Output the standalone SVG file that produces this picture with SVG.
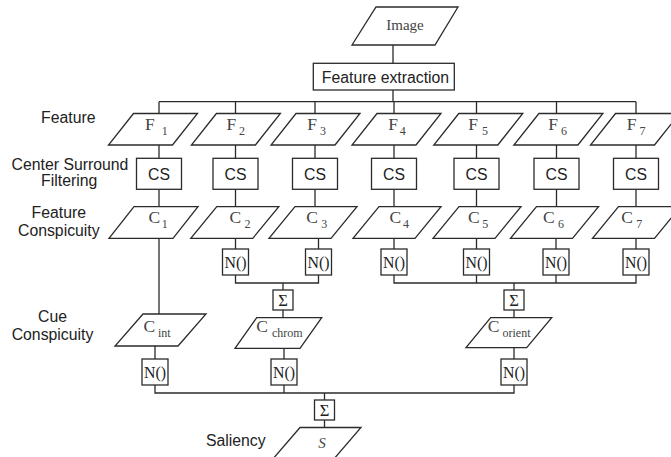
<svg xmlns="http://www.w3.org/2000/svg" width="671" height="457" viewBox="0 0 671 457">
<style>
.sh{fill:#fff;stroke:#2b2b2b;stroke-width:1.3}
.cn{fill:none;stroke:#2b2b2b;stroke-width:1.3}
.sans{font-family:"Liberation Sans",Arial,sans-serif;font-size:15.8px;fill:#222}
.lbl{text-anchor:middle}
.sr{font-family:"Liberation Serif","Times New Roman",serif;fill:#444}
.big{font-size:17.5px}
.sub{font-size:12px}
.nf{font-family:"Liberation Serif","Times New Roman",serif;font-size:16.5px;fill:#222;text-anchor:middle}
</style>
<rect width="671" height="457" fill="#fff"/>

<g id="connectors">
<path class="cn" d="M393 45V63.3M393 90V101.7M159 101.7H636"/>
<path class="cn" d="M159 101.7V113.5M235.5 101.7V113.5M315 101.7V113.5M394 101.7V113.5M476.5 101.7V113.5M556.5 101.7V113.5M636 101.7V113.5"/>
<path class="cn" d="M159 145V158.3M235.5 145V158.3M315 145V158.3M394 145V158.3M476.5 145V158.3M556.5 145V158.3M636 145V158.3"/>
<path class="cn" d="M159 189.3V206.7M235.5 189.3V206.7M315 189.3V206.7M394 189.3V206.7M476.5 189.3V206.7M556.5 189.3V206.7M636 189.3V206.7"/>
<path class="cn" d="M159 238.3V314M235.5 238.3V249M318.5 238.3V249M394 238.3V249M476.5 238.3V249M556 238.3V249M636 238.3V249"/>
<path class="cn" d="M235.5 275V283H318.5V275M283 283V290M283 310V317.7"/>
<path class="cn" d="M394 275V283H636V275M476.5 275V283M556 275V283M514 283V290M514 310V317.7"/>
<path class="cn" d="M155 346V359M284 348.3V359M514 347.7V359"/>
<path class="cn" d="M155 385V393H514V385M284 385V393M324.5 393V400M324.5 420V427.5"/>
</g>

<g id="image"><polygon class="sh" points="376,7 458,7 435,45 352,45"/><text class="sr" x="405" y="30" font-size="15" text-anchor="middle">Image</text></g>
<g id="feature-extraction"><rect class="sh" x="313.3" y="63.3" width="141" height="26.7"/><text class="sans lbl" x="385.5" y="82.7">Feature extraction</text></g>

<g id="label-feature"><text class="sans lbl" x="68.3" y="123.3">Feature</text></g>
<g id="label-cs"><text class="sans lbl" x="70" y="169.8">Center Surround</text><text class="sans lbl" x="69.2" y="186.3">Filtering</text></g>
<g id="label-fc"><text class="sans lbl" x="58.8" y="218.3">Feature</text><text class="sans lbl" x="58.8" y="235.5">Conspicuity</text></g>
<g id="label-cue"><text class="sans lbl" x="52.5" y="322.3">Cue</text><text class="sans lbl" x="52.5" y="340.3">Conspicuity</text></g>
<g id="label-saliency"><text class="sans lbl" x="235.8" y="446">Saliency</text></g>

<g id="F1"><polygon class="sh" points="133.5,113.5 197.5,113.5 172.5,145 108.5,145"/><text class="sr"><tspan class="big" x="145" y="130">F</tspan><tspan class="sub" x="161.7" y="134.5">1</tspan></text></g>
<g id="F2"><polygon class="sh" points="216.4,113.5 280.4,113.5 255.4,145 191.4,145"/><text class="sr"><tspan class="big" x="226.5" y="130">F</tspan><tspan class="sub" x="239" y="134.5">2</tspan></text></g>
<g id="F3"><polygon class="sh" points="296,113.5 360,113.5 335,145 271,145"/><text class="sr"><tspan class="big" x="307.3" y="130">F</tspan><tspan class="sub" x="320" y="134.5">3</tspan></text></g>
<g id="F4"><polygon class="sh" points="377,113.5 441,113.5 416,145 352,145"/><text class="sr"><tspan class="big" x="388.3" y="130">F</tspan><tspan class="sub" x="399.8" y="134.5">4</tspan></text></g>
<g id="F5"><polygon class="sh" points="458.8,113.5 522.8,113.5 497.8,145 433.8,145"/><text class="sr"><tspan class="big" x="468.3" y="130">F</tspan><tspan class="sub" x="482" y="134.5">5</tspan></text></g>
<g id="F6"><polygon class="sh" points="538.9,113.5 602.9,113.5 577.9,145 513.9,145"/><text class="sr"><tspan class="big" x="548.3" y="130">F</tspan><tspan class="sub" x="561" y="134.5">6</tspan></text></g>
<g id="F7"><polygon class="sh" points="615.5,113.5 679.5,113.5 654.5,145 590.5,145"/><text class="sr"><tspan class="big" x="626.7" y="130">F</tspan><tspan class="sub" x="639.5" y="134.5">7</tspan></text></g>

<g id="CS1"><rect class="sh" x="136.5" y="158.3" width="45" height="31"/><text class="sans lbl" x="159" y="179.5" font-size="16">CS</text></g>
<g id="CS2"><rect class="sh" x="213" y="158.3" width="45" height="31"/><text class="sans lbl" x="235.5" y="179.5" font-size="16">CS</text></g>
<g id="CS3"><rect class="sh" x="292.5" y="158.3" width="45" height="31"/><text class="sans lbl" x="315" y="179.5" font-size="16">CS</text></g>
<g id="CS4"><rect class="sh" x="371.5" y="158.3" width="45" height="31"/><text class="sans lbl" x="394" y="179.5" font-size="16">CS</text></g>
<g id="CS5"><rect class="sh" x="454" y="158.3" width="45" height="31"/><text class="sans lbl" x="476.5" y="179.5" font-size="16">CS</text></g>
<g id="CS6"><rect class="sh" x="534" y="158.3" width="45" height="31"/><text class="sans lbl" x="556.5" y="179.5" font-size="16">CS</text></g>
<g id="CS7"><rect class="sh" x="613.5" y="158.3" width="45" height="31"/><text class="sans lbl" x="636" y="179.5" font-size="16">CS</text></g>

<g id="C1"><polygon class="sh" points="134,206.7 198,206.7 173,238.3 109,238.3"/><text class="sr"><tspan class="big" x="148.5" y="223">C</tspan><tspan class="sub" x="161.7" y="227.5">1</tspan></text></g>
<g id="C2"><polygon class="sh" points="216.8,206.7 278.8,206.7 252.8,238.3 190.8,238.3"/><text class="sr"><tspan class="big" x="229.5" y="223">C</tspan><tspan class="sub" x="244.5" y="227.5">2</tspan></text></g>
<g id="C3"><polygon class="sh" points="295,206.7 357,206.7 331,238.3 269,238.3"/><text class="sr"><tspan class="big" x="306.2" y="223">C</tspan><tspan class="sub" x="321.2" y="227.5">3</tspan></text></g>
<g id="C4"><polygon class="sh" points="379,206.7 441,206.7 415,238.3 353,238.3"/><text class="sr"><tspan class="big" x="389.5" y="223">C</tspan><tspan class="sub" x="403" y="227.5">4</tspan></text></g>
<g id="C5"><polygon class="sh" points="459,206.7 521,206.7 495,238.3 433,238.3"/><text class="sr"><tspan class="big" x="468" y="223">C</tspan><tspan class="sub" x="482.2" y="227.5">5</tspan></text></g>
<g id="C6"><polygon class="sh" points="536.5,206.7 598.5,206.7 572.5,238.3 510.5,238.3"/><text class="sr"><tspan class="big" x="543" y="223">C</tspan><tspan class="sub" x="558" y="227.5">6</tspan></text></g>
<g id="C7"><polygon class="sh" points="618.5,206.7 680.5,206.7 654.5,238.3 592.5,238.3"/><text class="sr"><tspan class="big" x="621.2" y="223">C</tspan><tspan class="sub" x="636.3" y="227.5">7</tspan></text></g>

<g id="N2"><rect class="sh" x="222.5" y="249" width="26" height="26"/><text class="nf" x="235.5" y="267.8" textLength="22" lengthAdjust="spacingAndGlyphs">N()</text></g>
<g id="N3"><rect class="sh" x="305.5" y="249" width="26" height="26"/><text class="nf" x="318.5" y="267.8" textLength="22" lengthAdjust="spacingAndGlyphs">N()</text></g>
<g id="N4"><rect class="sh" x="381" y="249" width="26" height="26"/><text class="nf" x="394" y="267.8" textLength="22" lengthAdjust="spacingAndGlyphs">N()</text></g>
<g id="N5"><rect class="sh" x="463.5" y="249" width="26" height="26"/><text class="nf" x="476.5" y="267.8" textLength="22" lengthAdjust="spacingAndGlyphs">N()</text></g>
<g id="N6"><rect class="sh" x="543" y="249" width="26" height="26"/><text class="nf" x="556" y="267.8" textLength="22" lengthAdjust="spacingAndGlyphs">N()</text></g>
<g id="N7"><rect class="sh" x="623" y="249" width="26" height="26"/><text class="nf" x="636" y="267.8" textLength="22" lengthAdjust="spacingAndGlyphs">N()</text></g>

<g id="sum-chrom"><rect class="sh" x="273" y="290" width="20" height="20"/><text class="nf" x="283" y="305.5">Σ</text></g>
<g id="sum-orient"><rect class="sh" x="504" y="290" width="20" height="20"/><text class="nf" x="514" y="305.5">Σ</text></g>

<g id="C-int"><polygon class="sh" points="143,314 206,314 178,346 115,346"/><text class="sr"><tspan class="big" x="143.5" y="332">C</tspan><tspan class="sub" x="158" y="336.7">int</tspan></text></g>
<g id="C-chrom"><polygon class="sh" points="256.7,317.7 321.7,317.7 300,348.3 235,348.3"/><text class="sr"><tspan class="big" x="256.2" y="332">C</tspan><tspan class="sub" x="272" y="336.7">chrom</tspan></text></g>
<g id="C-orient"><polygon class="sh" points="490.7,317.7 551.7,317.7 526.7,347.7 466,347.7"/><text class="sr"><tspan class="big" x="487.8" y="332">C</tspan><tspan class="sub" x="502.5" y="336.7">orient</tspan></text></g>

<g id="N-int"><rect class="sh" x="142" y="359" width="26" height="26"/><text class="nf" x="155" y="377.8" textLength="22" lengthAdjust="spacingAndGlyphs">N()</text></g>
<g id="N-chrom"><rect class="sh" x="271" y="359" width="26" height="26"/><text class="nf" x="284" y="377.8" textLength="22" lengthAdjust="spacingAndGlyphs">N()</text></g>
<g id="N-orient"><rect class="sh" x="501" y="359" width="26" height="26"/><text class="nf" x="514" y="377.8" textLength="22" lengthAdjust="spacingAndGlyphs">N()</text></g>

<g id="sum-final"><rect class="sh" x="314.5" y="400" width="20" height="20"/><text class="nf" x="324.5" y="415.5">Σ</text></g>
<g id="S"><polygon class="sh" points="300,427.5 361,427.5 333,460 272,460"/><text class="sr" x="322" y="448" font-size="15" font-style="italic" text-anchor="middle">S</text></g>
</svg>
